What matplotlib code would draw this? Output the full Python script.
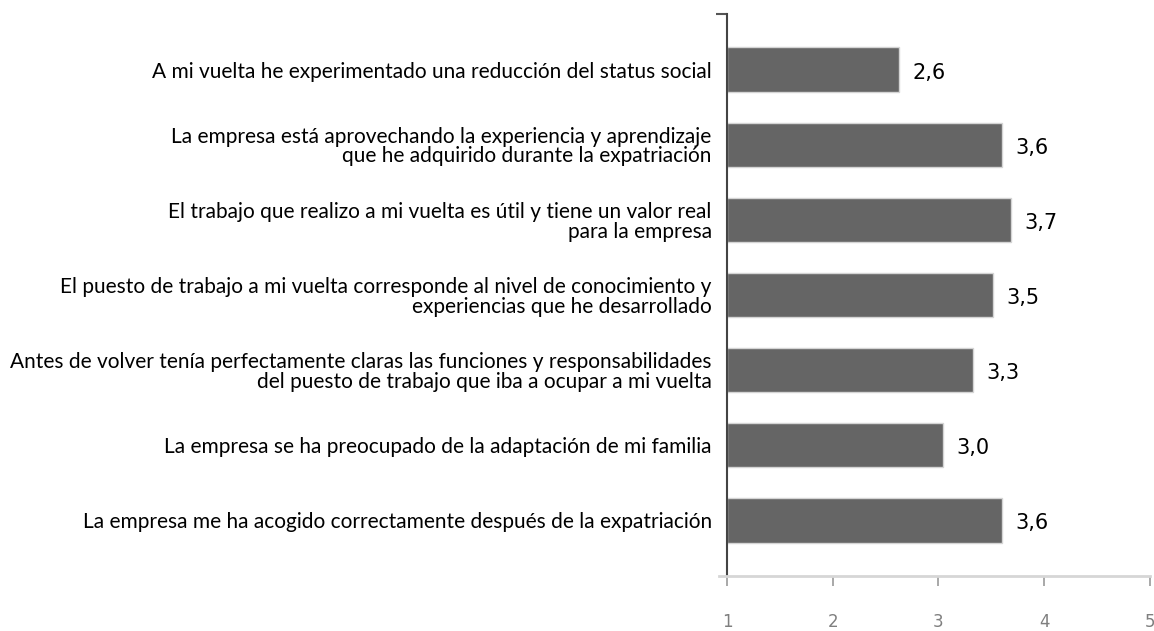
import matplotlib
matplotlib.use("Agg")
import matplotlib.pyplot as plt

# datos (de arriba hacia abajo)
afirmaciones = [
    "A mi vuelta he experimentado una reducción del status social",
    "La empresa está aprovechando la experiencia y aprendizaje\nque he adquirido durante la expatriación",
    "El trabajo que realizo a mi vuelta es útil y tiene un valor real\npara la empresa",
    "El puesto de trabajo a mi vuelta corresponde al nivel de conocimiento y\nexperiencias que he desarrollado",
    "Antes de volver tenía perfectamente claras las funciones y responsabilidades\ndel puesto de trabajo que iba a ocupar a mi vuelta",
    "La empresa se ha preocupado de la adaptación de mi familia",
    "La empresa me ha acogido correctamente después de la expatriación",
]
valores = [2.63, 3.60, 3.69, 3.52, 3.33, 3.04, 3.60]
ticks_x = [1, 2, 3, 4, 5]

fig = plt.figure(figsize=(11.54, 6.31), dpi=100)
ax = fig.add_axes([0.630, 0.0872, 0.3665, 0.8906])

pos = list(range(len(valores)))
largos = [v - 1 for v in valores]
ax.barh(pos, largos, left=1, height=0.59, color="#656565",
        edgecolor="#d4d4d4", linewidth=1)

for p, v in zip(pos, valores):
    ax.text(v + 0.125, p + 0.04, f"{v:.1f}".replace(".", ","),
            va="center", ha="left", fontsize=15, color="black",
            family="DejaVu Sans")

ax.set_xlim(1, 5)
ax.set_ylim(6.74, -0.74)
ax.set_xticks(ticks_x)
ax.set_xticklabels([str(t) for t in ticks_x], color="#7f7f7f",
                   fontsize=12, family="DejaVu Sans")
ax.tick_params(axis="x", direction="out", length=7, width=1.2,
               color="#9a9a9a", pad=20)

ax.set_yticks(pos)
ax.set_yticklabels(afirmaciones, fontsize=15, family="Lato",
                   linespacing=0.98)
ax.tick_params(axis="y", length=0, pad=11)
ax.set_yticks([-0.74], minor=True)
ax.tick_params(axis="y", which="minor", length=8, width=1.5,
               color="#555555")

for lado in ["top", "right"]:
    ax.spines[lado].set_visible(False)
ax.spines["left"].set_color("#444444")
ax.spines["left"].set_linewidth(1.5)
ax.spines["bottom"].set_color("#d6d6d6")
ax.spines["bottom"].set_linewidth(2)
ax.spines["bottom"].set_bounds(0.925, 5)

fig.savefig("out.png", dpi=100)
